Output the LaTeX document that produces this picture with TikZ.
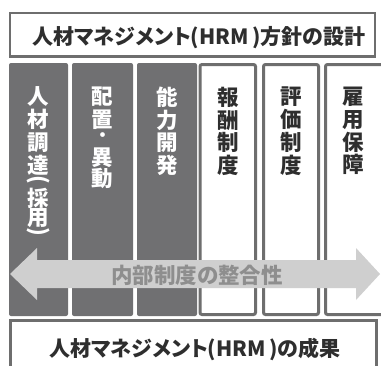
\documentclass[tikz,border=0pt]{standalone}
\usepackage{fontspec}
\usepackage{graphicx}
\newfontfamily\jp[CharacterWidth=AlternateProportional]{Noto Sans CJK JP}
\newfontfamily\jpv{Noto Sans CJK JP}
\definecolor{darkfill}{HTML}{707072}
\definecolor{bordergray}{HTML}{6E6E6E}
\definecolor{arrowfill}{HTML}{CFCFCF}
\definecolor{arrowtext}{HTML}{8E8E8E}
\definecolor{txt}{HTML}{2E2E2E}
\tikzset{
  titlebox/.style={draw=bordergray, line width=2.5pt, fill=white, inner sep=0pt},
  darkcol/.style={fill=darkfill, rounded corners=2pt, minimum width=59pt, minimum height=253pt, inner sep=0pt},
  whitecol/.style={draw=bordergray, line width=3pt, fill=white, rounded corners=2pt, minimum width=56pt, minimum height=250pt, inner sep=0pt},
  vtext/.style={font=\jpv\bfseries\fontsize{21.5}{22.7}\selectfont, align=center, inner sep=0pt, anchor=north},
  vparen/.style={font=\jpv\bfseries\fontsize{22}{22}\selectfont, inner sep=0pt},
  htext/.style={font=\jp\bfseries\fontsize{21}{24}\selectfont, text=txt, inner sep=0pt},
}
\begin{document}
\begin{tikzpicture}[x=1pt, y=-1pt]
\useasboundingbox (0,0) rectangle (381,365);
\clip (0,0) rectangle (381,365);
\fill[white] (0,0) rectangle (381,365);
% top box
\node[titlebox, minimum width=365pt, minimum height=43.5pt] (top) at (192.5,34.5) {};
\node[htext] (toptxt) at (199,38) {人材マネジメント(HRM\,)方針の設計};
% columns
\node[darkcol] (c1) at (38.5,189.5) {};
\node[darkcol, minimum width=61pt] (c2) at (102.5,189.5) {};
\node[darkcol, minimum width=60pt] (c3) at (167,189.5) {};
\node[whitecol, minimum width=55.5pt] (c4) at (227.75,189.5) {};
\node[whitecol, minimum width=55pt] (c5) at (291,189.5) {};
\node[whitecol, minimum width=58pt] (c6) at (354.5,189.5) {};
% column 1 text
\node[vtext, text=white] (t1a) at ([yshift=-24pt]c1.north) {人\\材\\調\\達};
\node[vparen, text=white] (t1p) at (38.5,181.5) {\rotatebox[origin=c]{-90}{(}};
\node[vtext, text=white, font=\jpv\bfseries\fontsize{21.5}{19.5}\selectfont] (t1b) at (38.5,187.5) {採\\用};
\node[vparen, text=white] (t1q) at (38.5,233.5) {\rotatebox[origin=c]{-90}{)}};
% column 2 text
\node[vtext, text=white] (t2a) at ([yshift=-24pt]c2.north) {配\\置};
\node[vtext, text=white, anchor=center, font=\jpv\bfseries\fontsize{17}{17}\selectfont] (t2d) at (102.5,137.5) {・};
\node[vtext, text=white, font=\jpv\bfseries\fontsize{21.5}{20.5}\selectfont] (t2b) at (102.5,148) {異\\動};
% other columns
\node[vtext, text=white] (t3) at ([yshift=-24pt]c3.north) {能\\力\\開\\発};
\node[vtext, text=txt] (t4) at ([yshift=-24pt]c4.north) {報\\酬\\制\\度};
\node[vtext, text=txt] (t5) at ([yshift=-24pt]c5.north) {評\\価\\制\\度};
\node[vtext, text=txt] (t6) at ([yshift=-24pt,xshift=-1pt]c6.north) {雇\\用\\保\\障};
% double arrow
\fill[arrowfill] (10,274) -- (37,248) -- (37,260) -- (356,260) -- (356,248) -- (380,274)
  -- (356,300) -- (356,288) -- (37,288) -- (37,300) -- cycle;
\node[font=\jp\bfseries\fontsize{21.5}{22}\selectfont, text=arrowtext, inner sep=0pt] (atxt) at (197,275) {内部制度の整合性};
% bottom box
\node[titlebox, line width=3pt, minimum width=366pt, minimum height=60pt] (bot) at (193,350) {};
\node[htext] (bottxt) at (195,349) {人材マネジメント(HRM\,)の成果};
\end{tikzpicture}
\end{document}
